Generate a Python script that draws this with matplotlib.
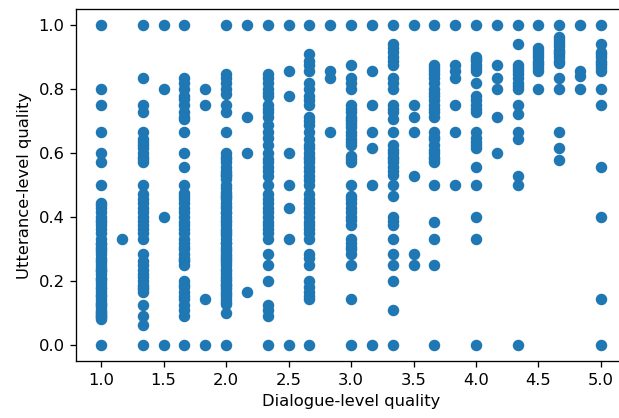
import matplotlib
matplotlib.use("Agg")
import matplotlib.pyplot as plt
import numpy as np

# Utterance-level quality scores grouped by dialogue-level rating
u_1_000 = [1.0, 0.8, 0.75, 0.667, 0.6, 0.571, 0.5, 0.444, 0.438, 0.429, 0.417, 0.4,
           0.391, 0.385, 0.375, 0.364, 0.35, 0.333, 0.32, 0.316, 0.308, 0.3, 0.294,
           0.286, 0.273, 0.267, 0.261, 0.25, 0.24, 0.235, 0.231, 0.222, 0.211, 0.208,
           0.2, 0.19, 0.182, 0.176, 0.167, 0.158, 0.154, 0.143, 0.136, 0.13, 0.125,
           0.118, 0.111, 0.105, 0.1, 0.095, 0.091, 0.087, 0.083, 0.0]
u_1_167 = [0.333]
u_1_333 = [1.0, 0.833, 0.75, 0.727, 0.667, 0.643, 0.636, 0.625, 0.615, 0.6, 0.588,
           0.583, 0.571, 0.5, 0.471, 0.455, 0.444, 0.429, 0.417, 0.4, 0.389, 0.375,
           0.364, 0.35, 0.333, 0.286, 0.263, 0.25, 0.235, 0.222, 0.214, 0.2, 0.188,
           0.182, 0.176, 0.167, 0.125, 0.091, 0.0625, 0.0]
u_1_500 = [1.0, 0.8, 0.4, 0.0]
u_1_667 = [1.0, 0.833, 0.818, 0.8, 0.778, 0.769, 0.75, 0.727, 0.714, 0.706, 0.667,
           0.6, 0.556, 0.5, 0.476, 0.467, 0.455, 0.444, 0.429, 0.417, 0.4, 0.385,
           0.375, 0.364, 0.35, 0.333, 0.32, 0.308, 0.3, 0.286, 0.273, 0.267, 0.263,
           0.25, 0.2, 0.188, 0.182, 0.167, 0.154, 0.143, 0.125, 0.111, 0.09, 0.0]
u_1_833 = [0.8, 0.75, 0.143, 0.0]
u_2_000 = [1.0, 0.846, 0.833, 0.818, 0.8, 0.786, 0.75, 0.727, 0.667, 0.6, 0.588,
           0.583, 0.571, 0.556, 0.545, 0.538, 0.533, 0.529, 0.519, 0.5, 0.49, 0.478,
           0.471, 0.467, 0.462, 0.455, 0.444, 0.435, 0.429, 0.417, 0.412, 0.4, 0.391,
           0.385, 0.375, 0.364, 0.357, 0.35, 0.345, 0.333, 0.32, 0.318, 0.308, 0.3,
           0.294, 0.286, 0.278, 0.273, 0.267, 0.261, 0.25, 0.238, 0.231, 0.222,
           0.214, 0.208, 0.2, 0.192, 0.188, 0.182, 0.176, 0.167, 0.16, 0.154, 0.143,
           0.136, 0.13, 0.1, 0.0]
u_2_167 = [1.0, 0.714, 0.6, 0.167]
u_2_333 = [1.0, 0.846, 0.833, 0.818, 0.8, 0.789, 0.778, 0.75, 0.739, 0.727, 0.714,
           0.688, 0.667, 0.647, 0.625, 0.6, 0.583, 0.571, 0.556, 0.545, 0.529, 0.5,
           0.472, 0.455, 0.444, 0.429, 0.417, 0.4, 0.385, 0.375, 0.364, 0.35, 0.333,
           0.286, 0.25, 0.2, 0.125, 0.111, 0.091, 0.0]
u_2_500 = [1.0, 0.857, 0.778, 0.6, 0.5, 0.429, 0.333, 0.0]
u_2_667 = [1.0, 0.909, 0.889, 0.875, 0.857, 0.818, 0.8, 0.778, 0.765, 0.75, 0.714,
           0.7, 0.688, 0.667, 0.643, 0.625, 0.615, 0.6, 0.588, 0.583, 0.571, 0.556,
           0.545, 0.529, 0.517, 0.5, 0.471, 0.455, 0.444, 0.429, 0.417, 0.4, 0.385,
           0.375, 0.364, 0.35, 0.333, 0.286, 0.273, 0.25, 0.2, 0.182, 0.167, 0.154,
           0.143, 0.0]
u_2_833 = [1.0, 0.857, 0.833, 0.667]
u_3_000 = [1.0, 0.875, 0.833, 0.818, 0.8, 0.75, 0.737, 0.727, 0.714, 0.706,
           0.7, 0.69, 0.68, 0.667, 0.656, 0.643, 0.636, 0.625, 0.59, 0.583, 0.571,
           0.5, 0.467, 0.455, 0.444, 0.429, 0.417, 0.4, 0.39, 0.375, 0.333, 0.32,
           0.308, 0.3, 0.286, 0.25, 0.143, 0.0]
u_3_167 = [1.0, 0.857, 0.75, 0.667, 0.615, 0.5, 0.0]
u_3_333 = [1.0, 0.941, 0.929, 0.917, 0.9, 0.889, 0.875, 0.833, 0.818, 0.8, 0.75,
           0.739, 0.727, 0.706, 0.667, 0.625, 0.611, 0.6, 0.588, 0.583, 0.571, 0.556,
           0.545, 0.533, 0.5, 0.467, 0.4, 0.389, 0.375, 0.333, 0.286, 0.25, 0.2,
           0.111, 0.0]
u_3_500 = [1.0, 0.75, 0.714, 0.667, 0.529, 0.286, 0.25]
u_3_667 = [1.0, 0.875, 0.867, 0.857, 0.846, 0.833, 0.818, 0.8, 0.789, 0.778, 0.765,
           0.75, 0.737, 0.727, 0.714, 0.667, 0.65, 0.643, 0.625, 0.611, 0.6,
           0.588, 0.583, 0.571, 0.5, 0.385, 0.333, 0.25, 0.0]
u_3_833 = [1.0, 0.875, 0.857, 0.833, 0.75, 0.667, 0.5]
u_4_000 = [1.0, 0.9, 0.895, 0.889, 0.875, 0.867, 0.857, 0.818, 0.778, 0.765, 0.75,
           0.737, 0.727, 0.667, 0.647, 0.636, 0.625, 0.615, 0.556, 0.5, 0.4, 0.333,
           0.0]
u_4_167 = [1.0, 0.875, 0.833, 0.8, 0.714, 0.6]
u_4_333 = [1.0, 0.941, 0.875, 0.867, 0.857, 0.846, 0.833, 0.818, 0.81, 0.8, 0.75,
           0.722, 0.667, 0.643, 0.529, 0.5, 0.0]
u_4_500 = [1.0, 0.929, 0.92, 0.909, 0.9, 0.889, 0.882, 0.875, 0.867, 0.857, 0.8]
u_4_667 = [1.0, 0.964, 0.952, 0.944, 0.933, 0.923, 0.917, 0.909, 0.9, 0.889, 0.882,
           0.833, 0.8, 0.667, 0.615, 0.577]
u_4_833 = [1.0, 0.857, 0.842, 0.8]
u_5_000 = [1.0, 0.941, 0.917, 0.909, 0.9, 0.889, 0.882, 0.875, 0.867, 0.857, 0.8,
           0.75, 0.556, 0.4, 0.143, 0.0]

dialogue_levels = [1.0, 1.1667, 1.3333, 1.5, 1.6667, 1.8333, 2.0, 2.1667, 2.3333,
                   2.5, 2.6667, 2.8333, 3.0, 3.1667, 3.3333, 3.5, 3.6667, 3.8333,
                   4.0, 4.1667, 4.3333, 4.5, 4.6667, 4.8333, 5.0]
utterance_groups = [u_1_000, u_1_167, u_1_333, u_1_500, u_1_667, u_1_833, u_2_000,
                    u_2_167, u_2_333, u_2_500, u_2_667, u_2_833, u_3_000, u_3_167,
                    u_3_333, u_3_500, u_3_667, u_3_833, u_4_000, u_4_167, u_4_333,
                    u_4_500, u_4_667, u_4_833, u_5_000]

# flatten into paired x/y arrays
x = np.concatenate([[lvl] * len(g) for lvl, g in zip(dialogue_levels, utterance_groups)])
y = np.concatenate(utterance_groups)

dpi = 118
fig = plt.figure(figsize=(619 / dpi, 418 / dpi), dpi=dpi)
ax = fig.add_axes([0.1228, 0.1360, 0.8885, 0.8424])
ax.scatter(x, y)
ax.set_xlabel("Dialogue-level quality")
ax.set_ylabel("Utterance-level quality")

fig.savefig("out.png", dpi=dpi)
